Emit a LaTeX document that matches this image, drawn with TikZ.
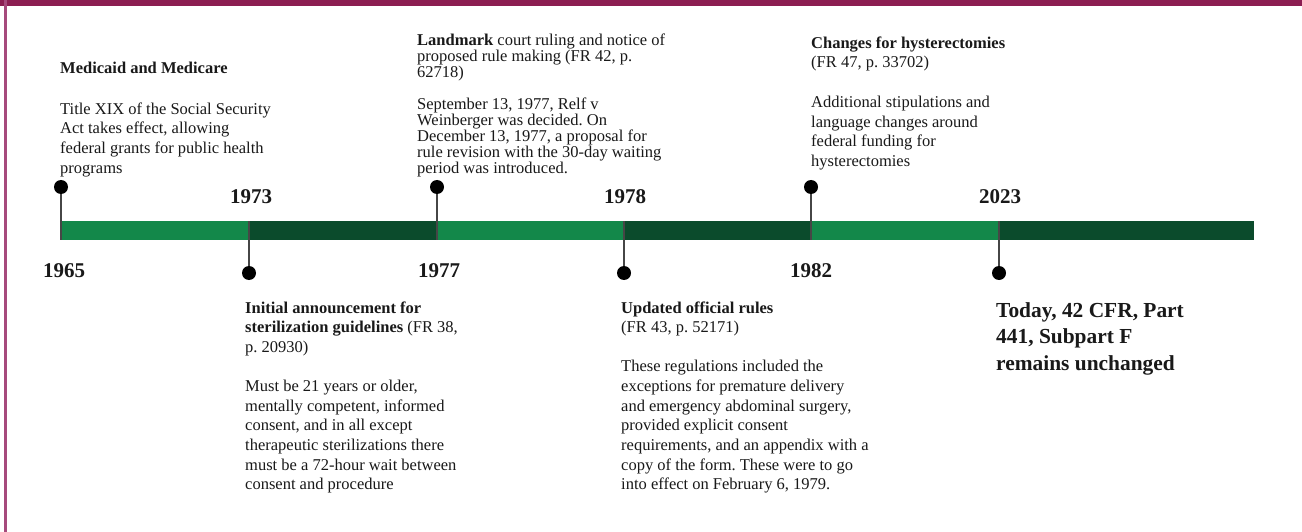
\documentclass[tikz,border=0pt]{standalone}
\usepackage{fontspec}
\setmainfont{Liberation Serif}
\frenchspacing
\definecolor{plum}{RGB}{140,30,82}
\definecolor{plumlight}{RGB}{166,74,124}
\definecolor{lightgreen}{RGB}{19,136,74}
\definecolor{darkgreen}{RGB}{11,75,44}
\definecolor{stickgray}{RGB}{70,70,70}
\definecolor{inktext}{RGB}{25,25,25}
\tikzset{
  dot/.style={circle,fill=black,minimum size=14pt,inner sep=0pt},
  stick/.style={draw=stickgray,line width=1.3pt},
  year/.style={anchor=base,inner sep=0pt,text=inktext,font=\fontsize{21}{24}\selectfont\bfseries},
  blurb/.style={anchor=north west,inner sep=0pt,align=left,text=inktext,font=\fontsize{16.5}{19.7}\selectfont\frenchspacing},
  tight/.style={anchor=north west,inner sep=0pt,align=left,text=inktext,font=\fontsize{16.5}{16}\selectfont\frenchspacing},
  big/.style={anchor=north west,inner sep=0pt,align=left,text=inktext,font=\fontsize{21.4}{26.5}\selectfont\bfseries},
}
\newcommand{\topstrut}{\rule{0pt}{12pt}}
\begin{document}
\begin{tikzpicture}[x=1pt,y=-1pt]
\useasboundingbox (0,0) rectangle (1302,532);
\fill[white] (0,0) rectangle (1302,532);
\fill[plum] (0,0) rectangle (1302,6);
\fill[plumlight] (4.3,0) rectangle (7,532);
% timeline bar
\fill[lightgreen] (61,221) rectangle (249,240);
\fill[darkgreen] (249,221) rectangle (437,240);
\fill[lightgreen] (437,221) rectangle (624,240);
\fill[darkgreen] (624,221) rectangle (811,240);
\fill[lightgreen] (811,221) rectangle (999,240);
\fill[darkgreen] (999,221) rectangle (1254,240);
% marker positions
\coordinate (p1965) at (61,187);
\coordinate (p1973) at (249,273);
\coordinate (p1977) at (437,187);
\coordinate (p1978) at (624,273);
\coordinate (p1982) at (811,187);
\coordinate (p2023) at (999,273);
\coordinate (b1965) at (61,240);
\coordinate (b1973) at (249,221);
\coordinate (b1977) at (437,240);
\coordinate (b1978) at (624,221);
\coordinate (b1982) at (811,240);
\coordinate (b2023) at (999,221);
\draw[stick] (p1965) -- (b1965);
\draw[stick] (b1973) -- (p1973);
\draw[stick] (p1977) -- (b1977);
\draw[stick] (b1978) -- (p1978);
\draw[stick] (p1982) -- (b1982);
\draw[stick] (b2023) -- (p2023);
\node[dot] (d1965) at (p1965) {};
\node[dot] (d1973) at (p1973) {};
\node[dot] (d1977) at (p1977) {};
\node[dot] (d1978) at (p1978) {};
\node[dot] (d1982) at (p1982) {};
\node[dot] (d2023) at (p2023) {};
% years
\node[year] (y1965) at (64,277) {1965};
\node[year] (y1973) at (251,204) {1973};
\node[year] (y1977) at (439,277) {1977};
\node[year] (y1978) at (625,204) {1978};
\node[year] (y1982) at (811,277) {1982};
\node[year] (y2023) at (1000,204) {2023};
% texts
\node[blurb] (t1965) at (60,61) {\topstrut\textbf{Medicaid and Medicare}\\[21.3pt]
Title XIX of the Social Security\\
Act takes effect, allowing\\
federal grants for public health\\
programs};
\node[tight] (t1977) at (417,33) {\topstrut\textbf{Landmark} court ruling and notice of\\
proposed rule making (FR 42, p.\\
62718)\\[16pt]
September 13, 1977, Relf v\\
Weinberger was decided. On\\
December 13, 1977, a proposal for\\
rule revision with the 30-day waiting\\
period was introduced.};
\node[blurb] (t1982) at (811,36) {\topstrut\textbf{Changes for hysterectomies}\\
(FR 47, p. 33702)\\[20pt]
Additional stipulations and\\
language changes around\\
federal funding for\\
hysterectomies};
\node[blurb] (t1973) at (245,301) {\topstrut\textbf{Initial announcement for}\\
\textbf{sterilization guidelines} (FR 38,\\
p. 20930)\\[19pt]
Must be 21 years or older,\\
mentally competent, informed\\
consent, and in all except\\
therapeutic sterilizations there\\
must be a 72-hour wait between\\
consent and procedure};
\node[blurb] (t1978) at (621,301) {\topstrut\textbf{Updated official rules}\\
(FR 43, p. 52171)\\[19pt]
These regulations included the\\
exceptions for premature delivery\\
and emergency abdominal surgery,\\
provided explicit consent\\
requirements, and an appendix with a\\
copy of the form. These were to go\\
into effect on February 6, 1979.};
\node[big] (t2023) at (996,301) {\rule{0pt}{16pt}Today, 42 CFR, Part\\
441, Subpart F\\
remains unchanged};
\end{tikzpicture}
\end{document}
